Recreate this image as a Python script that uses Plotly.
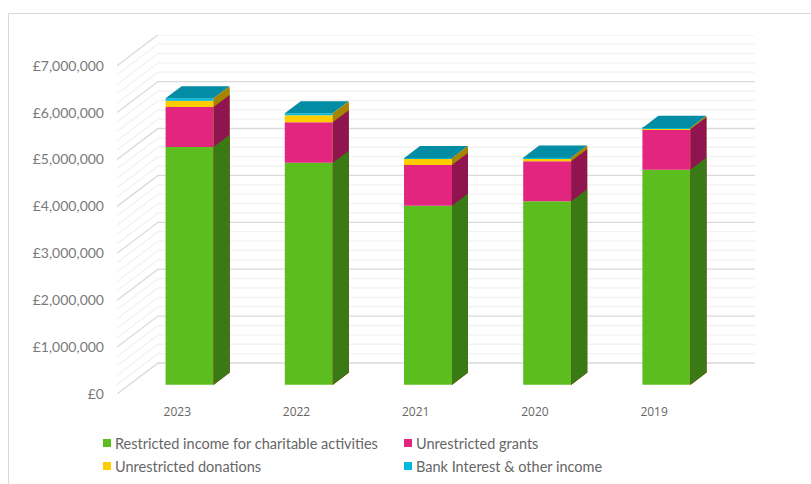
import plotly.graph_objects as go

W, H = 811, 484
years = ["2023", "2022", "2021", "2020", "2019"]
names = ["Restricted income for charitable activities", "Unrestricted grants",
         "Unrestricted donations", "Bank Interest & other income"]
restricted = [5070000, 4733000, 3817000, 3910000, 4584000]
grants = [850000, 862000, 868000, 853000, 861000]
donations = [135000, 149000, 135000, 57000, 15000]
interest = [52000, 43000, 10000, 20000, 15000]
series = [restricted, grants, donations, interest]
front = ["#5BBE1E", "#E2267F", "#FFCC00", "#00B8DC"]
side = ["#3A7A14", "#90144F", "#A58400", "#A58400"]
top_col = "#028DA5"
yticks = list(range(0, 7000001, 1000000))
ylabels = [f"£{v:,}" for v in yticks]
grid_levels = list(range(0, 7000001, 200000))

# plot geometry (pixels)
L, R, T, B = 117, 755, 35, 394
px_per_unit, px_per_gbp = 119.2, 46.9 / 1e6
x0 = 177.3
xr = [(L - x0) / px_per_unit, (R - x0) / px_per_unit]
yr = [0, (B - T) / px_per_gbp]
DX = 41 / px_per_unit          # depth projection in data units
DY = 31 / px_per_gbp
D1, D2 = 0.30, 0.69            # bar front / back depth
BW = 48 / px_per_unit

fig = go.Figure()
shapes = []

def poly(xs, ys, color):
    fig.add_trace(go.Scatter(x=xs, y=ys, mode="lines", fill="toself", fillcolor=color,
                             line=dict(width=0), hoverinfo="skip", showlegend=False))

# gridlines on side wall + back wall (below the bars)
for v in grid_levels:
    major = v % 1000000 == 0
    shapes.append(dict(type="path", xref="x", yref="y", layer="below",
                       path=f"M{xr[0]},{v} L{xr[0] + DX},{v + DY} L{xr[1]},{v + DY}",
                       line=dict(color="#D9D9D9" if major else "#F2F2F2", width=1.3)))

# front faces: native bars
xpos = [i + D1 * DX for i in range(len(years))]
base = [D1 * DY] * len(years)
bases = []
for s in series:
    bases.append(list(base))
    base = [b + v for b, v in zip(base, s)]
tops = base

for s, b, c, n in zip(series, bases, front, names):
    fig.add_trace(go.Bar(x=xpos, y=s, base=b, width=BW, name=n, showlegend=False,
                         marker=dict(color=c, line=dict(width=0))))

for i, x in enumerate(xpos):
    xr_f = x + BW / 2
    dx, dy = (D2 - D1) * DX, (D2 - D1) * DY
    t = tops[i]
    poly([x - BW / 2, x + BW / 2, xr_f + dx, x - BW / 2 + dx, x - BW / 2],
         [t, t, t + dy, t + dy, t], top_col)
    # side faces painted from the top of the stack down so thin segments leave no seams
    floor = bases[0][i]
    for s, b, c in reversed(list(zip(series, bases, side))):
        y2 = b[i] + s[i]
        poly([xr_f, xr_f + dx, xr_f + dx, xr_f, xr_f], [floor, floor + dy, y2 + dy, y2, floor], c)

# legend: real text with square swatches, two columns
legend_pos = [(103, 443), (404, 443), (103, 466), (404, 466)]
annotations = []
for (lx, ly), n, c in zip(legend_pos, names, front):
    shapes.append(dict(type="rect", xref="paper", yref="paper", line=dict(width=0), fillcolor=c,
                       x0=lx / W, x1=(lx + 8) / W, y0=1 - (ly + 4) / H, y1=1 - (ly - 4) / H))
    annotations.append(dict(xref="paper", yref="paper", x=(lx + 9.5) / W, y=1 - ly / H, text=n,
                            showarrow=False, xanchor="left", yanchor="middle",
                            font=dict(family="Lato", size=14.5, color="#666666")))

# outer frame
shapes.append(dict(type="path", xref="paper", yref="paper",
                   path=f"M{8.5 / W},0 L{8.5 / W},{1 - 13.5 / H} L1,{1 - 13.5 / H}",
                   line=dict(color="#D9D9D9", width=1)))

fig.update_layout(
    width=W, height=H + 8, margin=dict(l=0, r=0, t=0, b=0), barmode="overlay",
    paper_bgcolor="white", plot_bgcolor="white", showlegend=False,
    font=dict(family="Lato", color="#666666"),
    xaxis=dict(domain=[L / W, R / W], range=xr, showgrid=False, zeroline=False, showline=False,
               tickmode="array", tickvals=list(range(5)), ticktext=years, ticks="",
               tickfont=dict(family="Open Sans", size=12, color="#666666"), ticklabelstandoff=9),
    yaxis=dict(domain=[1 - B / H, 1 - T / H], range=yr, showgrid=False, zeroline=False, showline=False,
               tickmode="array", tickvals=yticks, ticktext=ylabels, ticks="",
               tickfont=dict(family="Lato", size=14, color="#7A7A7A"), ticklabelstandoff=12),
    shapes=shapes, annotations=annotations,
)
fig.write_html("out.html", config=dict(displayModeBar=False),
               post_script="document.body.style.margin='0';document.body.style.overflow='hidden';")
